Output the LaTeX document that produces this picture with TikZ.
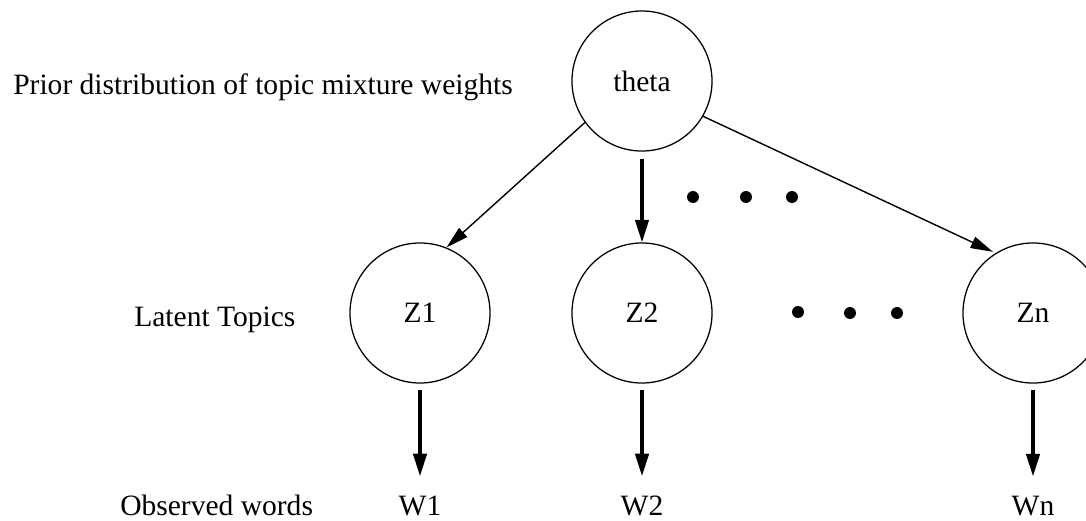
\documentclass[tikz,border=0pt]{standalone}
\usepackage{fontspec}
\setmainfont{Liberation Serif}
\usetikzlibrary{arrows.meta}
\begin{document}
\begin{tikzpicture}[x=0.025cm,y=-0.025cm,
  every node/.style={font=\fontsize{21}{25}\selectfont},
  var/.style={circle,draw,line width=0.9pt,minimum size=3.5cm,inner sep=0pt},
  lbl/.style={inner sep=0pt,anchor=base west},
  obs/.style={inner sep=0pt,anchor=base},
  thinarrow/.style={line width=1pt,-{Triangle[length=16pt,width=8.5pt]}},
  thickarrow/.style={line width=2.3pt,-{Triangle[length=16pt,width=9.5pt]}},
  dot/.style={circle,fill=black,inner sep=0pt,minimum size=8.5pt}]
\useasboundingbox (0,0) rectangle (1086,520);
% nodes
\node[var] (theta) at (642,81) {theta};
\node[var] (z1) at (420,313) {Z1};
\node[var] (z2) at (642,313) {Z2};
\node[var] (zn) at (1033,313) {Zn};
\node[obs] (w1) at (420,515) {W1};
\node[obs] (w2) at (642,515) {W2};
\node[obs] (wn) at (1033,515) {Wn};
% labels
\node[lbl] (lprior) at (13,94) {Prior distribution of topic mixture weights};
\node[lbl] (llat) at (134,326) {Latent Topics};
\node[lbl] (lobs) at (120,515) {Observed words};
% dots
\node[dot] (d1) at (693,197) {};
\node[dot] (d2) at (746,197) {};
\node[dot] (d3) at (792,197) {};
\node[dot] (d4) at (798,312) {};
\node[dot] (d5) at (850,313) {};
\node[dot] (d6) at (897,313) {};
% connectors
\draw[thinarrow] (theta.216) -- (z1.68);
\draw[thickarrow,shorten <=5pt] (theta.south) -- (z2.north);
\draw[thinarrow,shorten >=2pt] (theta.-30) -- (zn.122);
\draw[thickarrow,shorten <=4.5pt,shorten >=13.5pt] (z1.south) -- (w1.north);
\draw[thickarrow,shorten <=4.5pt,shorten >=13.5pt] (z2.south) -- (w2.north);
\draw[thickarrow,shorten <=4.5pt,shorten >=13.5pt] (zn.south) -- (wn.north);
\end{tikzpicture}
\end{document}
